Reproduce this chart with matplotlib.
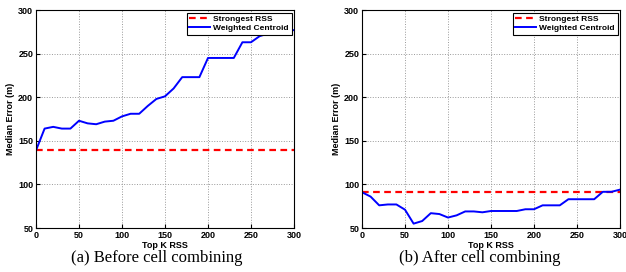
import matplotlib
matplotlib.use('Agg')
import matplotlib.pyplot as plt

# Top K RSS values
top_k = [0, 10, 20, 30, 40, 50, 60, 70, 80, 90, 100, 110, 120, 130, 140, 150,
         160, 170, 180, 190, 200, 210, 220, 230, 240, 250, 260, 270, 280, 290, 300]

# (a) before cell combining
before_centroid = [139, 164, 166, 164, 164, 173, 170, 169, 172, 173, 178, 181, 181, 190, 198, 201,
                   210, 223, 223, 223, 245, 245, 245, 245, 263, 263, 270, 273, 274, 275, 277]
before_strongest = 139

# (b) after cell combining
after_centroid = [91, 86, 76, 77, 77, 71, 55, 58, 67, 66, 62, 64.5, 69, 69, 68, 69.5,
                  69.5, 69.5, 69.5, 71.5, 71.5, 76, 76, 76, 83, 83, 83, 83, 91.5, 91.5, 94]
after_strongest = 91

captions = ['(a) Before cell combining', '(b) After cell combining']

plt.rcParams['font.family'] = 'Liberation Sans'
plt.rcParams['font.weight'] = 'bold'

fig = plt.figure(figsize=(6.26, 2.72), dpi=100)
W, H = 626, 272
panels = [
    (36, before_centroid, before_strongest, 157),
    (362, after_centroid, after_strongest, 480),
]

for i, (x0, centroid, strongest, cx) in enumerate(panels):
    ax = fig.add_axes([x0 / W, 44 / H, 258 / W, 218 / H])
    ax.plot(top_k, [strongest] * len(top_k), 'r--', lw=1.6, label='Strongest RSS', dashes=(3, 2))
    ax.plot(top_k, centroid, color='blue', lw=1.4, label='Weighted Centroid')
    ax.set_xlim(0, 300)
    ax.set_ylim(50, 300)
    ax.set_xticks(range(0, 301, 50))
    ax.set_yticks(range(50, 301, 50))
    ax.grid(True, linestyle=':', color='#999999', linewidth=0.7)
    ax.tick_params(direction='in', labelsize=6.5, length=3, pad=2)
    for lbl in ax.get_xticklabels() + ax.get_yticklabels():
        lbl.set_fontweight('bold')
    ax.set_xlabel('Top K RSS', fontsize=6.5, fontweight='bold', labelpad=1)
    ax.set_ylabel('Median Error (m)', fontsize=6.5, fontweight='bold', labelpad=2)
    leg = ax.legend(loc='upper right', fontsize=6, prop={'weight': 'bold', 'size': 6},
                    fancybox=False, edgecolor='black', framealpha=1,
                    borderpad=0.3, handlelength=2.5, labelspacing=0.2,
                    borderaxespad=0.3, handletextpad=0.4)
    leg.get_frame().set_linewidth(0.8)
    fig.text(cx / W, 1 - 258 / H, captions[i], ha='center', va='center',
             fontsize=12, family='Liberation Serif', fontweight='normal')

fig.savefig('out.png', dpi=100)
